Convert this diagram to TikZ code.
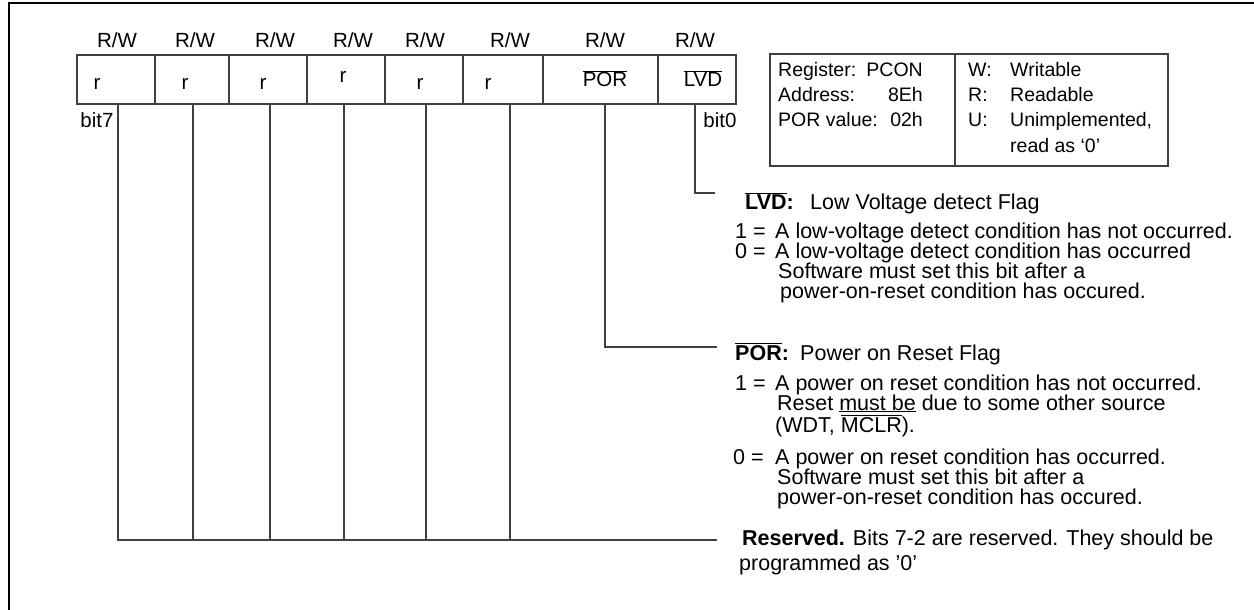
\documentclass[tikz,border=0pt]{standalone}
\usepackage{fontspec}
\setmainfont{Liberation Sans}
\newcommand\ovl[1]{$\overline{\mbox{#1}}$}
\begin{document}
\begin{tikzpicture}[x=1pt,y=-1pt,
  ln/.style={line width=1.3pt, draw=black!75},
  cell/.style={ln, draw, inner sep=0pt, minimum height=49pt},
  lbl/.style={anchor=base, inner sep=0pt, font=\fontsize{20.5}{24}\selectfont},
  desc/.style={anchor=base west, inner sep=0pt, font=\fontsize{21.5}{24}\selectfont},
  info/.style={anchor=base west, inner sep=0pt, font=\fontsize{19.5}{24}\selectfont},
  infoe/.style={info, anchor=base east}]
\useasboundingbox (0,0) rectangle (1254,610);
% frame (cropped)
\draw[line width=2.6pt] (9,615) -- (9,3) -- (1260,3);

% register cells
\node[cell, minimum width=78pt]  (b7) at (116,79.5) {};
\node[cell, minimum width=74pt]  (b6) at (192,79.5) {};
\node[cell, minimum width=78pt]  (b5) at (268,79.5) {};
\node[cell, minimum width=78pt]  (b4) at (346,79.5) {};
\node[cell, minimum width=78pt]  (b3) at (424,79.5) {};
\node[cell, minimum width=80pt]  (b2) at (503,79.5) {};
\node[cell, minimum width=115pt] (b1) at (600.5,79.5) {};
\node[cell, minimum width=78pt]  (b0) at (697,79.5) {};

% access labels
\foreach \x/\n in {117/a7,195/a6,275/a5,353/a4,425/a3,510/a2,605/a1,695/a0}
  \node[lbl] (\n) at (\x,48) {R/W};

% cell contents
\node[lbl] (r7) at (97,90) {r};
\node[lbl] (r6) at (185,90) {r};
\node[lbl] (r5) at (263,90) {r};
\node[lbl] (r4) at (343,82) {r};
\node[lbl] (r3) at (420,90) {r};
\node[lbl] (r2) at (488,90) {r};
\node[lbl] (r1) at (605,87) {\ovl{POR}};
\node[lbl] (r0) at (703,87) {\ovl{LVD}};
\node[lbl] (bit7) at (97,128) {bit7};
\node[lbl] (bit0) at (720,128) {bit0};

% info box
\node[ln, draw, inner sep=0pt, minimum width=185pt, minimum height=112pt] (infoL) at (862.5,110) {};
\node[ln, draw, inner sep=0pt, minimum width=213pt, minimum height=112pt] (infoR) at (1061.5,110) {};
\node[info]  (i1) at (778,77)  {Register:};
\node[infoe] (i1v) at (923,77) {PCON};
\node[info]  (i2) at (778,102) {Address:};
\node[infoe] (i2v) at (923,102) {8Eh};
\node[info]  (i3) at (778,127) {POR value:};
\node[infoe] (i3v) at (923,127) {02h};
\node[info]  (w1) at (968,77)  {W:};
\node[info]  (w2) at (1010,77) {Writable};
\node[info]  (r1k) at (968,102) {R:};
\node[info]  (r2k) at (1010,102) {Readable};
\node[info]  (u1) at (968,127) {U:};
\node[info]  (u2) at (1010,127) {Unimplemented,};
\node[info]  (u3) at (1010,152) {read as `0'};

% LVD description
\node[desc] (lvdT) at (745,209) {\textbf{\ovl{LVD}:}};
\node[desc] (lvdN) at (810,209) {Low Voltage detect Flag};
\node[desc] (lvd1k) at (735,238) {1 =};
\node[desc] (lvd1) at (775,238) {A low-voltage detect condition has not occurred.};
\node[desc] (lvd0k) at (735,258) {0 =};
\node[desc] (lvd0) at (775,258) {A low-voltage detect condition has occurred};
\node[desc] (lvd0b) at (778,278) {Software must set this bit after a};
\node[desc] (lvd0c) at (780,298) {power-on-reset condition has occured.};

% POR description
\node[desc] (porT) at (735,360) {\textbf{\ovl{POR}:}};
\node[desc] (porN) at (800,360) {Power on Reset Flag};
\node[desc] (por1k) at (735,390) {1 =};
\node[desc] (por1) at (775,390) {A power on reset condition has not occurred.};
\node[desc] (por1b) at (777,410) {Reset \underline{must be} due to some other source};
\node[desc] (por1c) at (775,432) {(WDT, \ovl{MCLR}).};
\node[desc] (por0k) at (733,464) {0 =};
\node[desc] (por0) at (775,464) {A power on reset condition has occurred.};
\node[desc] (por0b) at (777,484) {Software must set this bit after a};
\node[desc] (por0c) at (777,504) {power-on-reset condition has occured.};

% Reserved description
\node[desc] (resT) at (742,545) {\textbf{Reserved.} Bits 7-2 are reserved. They should be};
\node[desc] (resT2) at (739,570) {programmed as '0'};

% connectors
\coordinate (lvdTop) at (695,104);
\coordinate (lvdEnd) at (715,193);
\coordinate (porTop) at (605,104);
\coordinate (porEnd) at (717,347);
\coordinate (resEnd) at (717,540);
\coordinate (t7) at (118,104);
\coordinate (t6) at (193,104);
\coordinate (t5) at (270,104);
\coordinate (t4) at (344,104);
\coordinate (t3) at (426,104);
\coordinate (t2) at (510,104);
\draw[ln] (lvdTop) |- (lvdEnd);
\draw[ln] (porTop) |- (porEnd);
\draw[ln] (t7) |- (resEnd);
\foreach \t in {t6,t5,t4,t3,t2}
  \draw[ln] (\t) -- (\t |- resEnd);
\end{tikzpicture}
\end{document}
